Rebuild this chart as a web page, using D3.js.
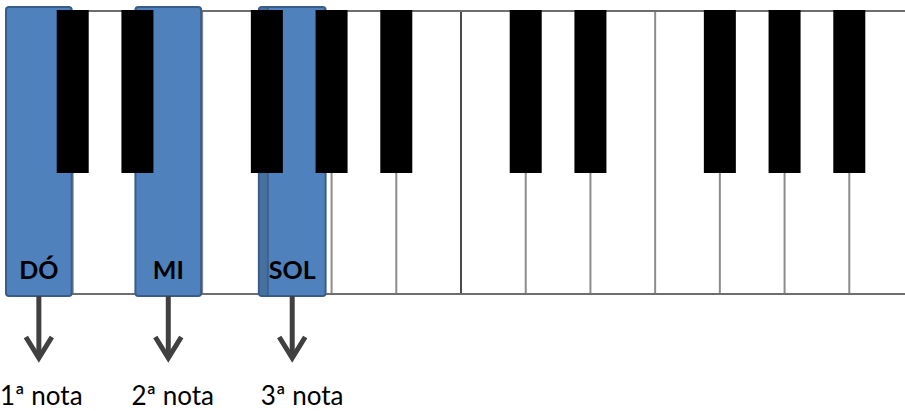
<!DOCTYPE html>
<html><head><meta charset="utf-8">
<script src="https://cdn.jsdelivr.net/npm/d3@7"></script>
<style>html,body{margin:0;padding:0;background:#fff;overflow:hidden}</style>
</head><body>
<svg id="c" width="905" height="411"></svg>
<script>
// ---- data ----
const whiteKeys = ["DÓ","RÉ","MI","FÁ","SOL","LÁ","SI","DÓ","RÉ","MI","FÁ","SOL","LÁ","SI"];
const blackAfter = [0,1,3,4,5,7,8,10,11,12];   // white-key index after which a black key sits
const chordKeys = [0,2,4];                      // DÓ, MI, SOL
const chordNames = ["DÓ","MI","SOL"];
const noteLabels = ["1ª nota","2ª nota","3ª nota"];

// ---- layout ----
const svg = d3.select("#c");
const kTop = 11, kBottom = 294, blackBottom = 173;
const x = d3.scaleBand().domain(d3.range(whiteKeys.length)).range([8, 914]).padding(0);
const bw = x.bandwidth();
const blackW = 32;
const nudge = {0:[-2,1],2:[-2,1],4:[-8,2]}; // small visual offsets of highlight boxes

// white key background
svg.append("rect").attr("x", x(0)).attr("y", kTop).attr("width", 905 - x(0)).attr("height", kBottom - kTop).attr("fill", "#fff");

// white key separators
svg.selectAll("line.sep").data(d3.range(1, whiteKeys.length)).join("line")
  .attr("class","sep")
  .attr("x1", d => x(d)).attr("x2", d => x(d))
  .attr("y1", kTop).attr("y2", kBottom)
  .attr("stroke", d => d === 7 ? "#4a4a4a" : "#8c8c8c")
  .attr("stroke-width", 2);

// top & bottom borders
svg.append("line").attr("x1", x(0)).attr("x2", 905).attr("y1", kTop).attr("y2", kTop).attr("stroke","#6e6e6e").attr("stroke-width",2);
svg.append("line").attr("x1", x(0)).attr("x2", 905).attr("y1", kBottom).attr("y2", kBottom).attr("stroke","#6e6e6e").attr("stroke-width",2);

// highlighted keys
const hx = i => x(i) + nudge[i][0];
const hw = i => bw + nudge[i][1];
svg.selectAll("rect.hl").data(chordKeys).join("rect")
  .attr("class","hl")
  .attr("x", d => hx(d)).attr("y", 7)
  .attr("width", d => hw(d)).attr("height", 289)
  .attr("rx", 3)
  .attr("fill", "#4f81bd").attr("stroke", "#385d8a").attr("stroke-width", 2);
// darker overlap strip and boundary showing through the SOL box
const shifted = chordKeys.filter(d => hx(d) < x(d) - 4);
svg.selectAll("rect.strip").data(shifted).join("rect")
  .attr("class","strip")
  .attr("x", d => hx(d) + 1).attr("y", 8).attr("width", d => x(d) - hx(d)).attr("height", 287)
  .attr("fill","#46719f");
svg.selectAll("line.thru").data(shifted).join("line")
  .attr("class","thru")
  .attr("x1", d => x(d)+1).attr("x2", d => x(d)+1).attr("y1", 8).attr("y2", 295)
  .attr("stroke","#3a6391").attr("stroke-width",2);

// black keys
svg.selectAll("rect.black").data(blackAfter).join("rect")
  .attr("class","black")
  .attr("x", d => x(d + 1) - blackW / 2).attr("y", kTop - 1)
  .attr("width", blackW).attr("height", blackBottom - kTop + 1)
  .attr("fill", "#000");

// chord labels
svg.selectAll("text.name").data(chordKeys).join("text")
  .attr("class","name")
  .attr("x", d => hx(d) + hw(d) / 2).attr("y", 279)
  .attr("text-anchor","middle")
  .attr("font-family","Lato, 'Open Sans', sans-serif").attr("font-weight","bold").attr("font-size", 25)
  .attr("fill","#000")
  .text((d, i) => chordNames[i]);

// arrows
const ag = svg.selectAll("g.arrow").data(chordKeys).join("g").attr("class","arrow")
  .attr("transform", d => `translate(${hx(d) + hw(d)/2},0)`);
ag.append("line").attr("x1",0).attr("x2",0).attr("y1",296).attr("y2",358)
  .attr("stroke","#404040").attr("stroke-width",5);
ag.append("path").attr("d","M-13,337 L0,358 L13,337")
  .attr("fill","none").attr("stroke","#404040").attr("stroke-width",5).attr("stroke-linejoin","miter");

// note labels
svg.selectAll("text.note").data(chordKeys).join("text")
  .attr("class","note")
  .attr("x", (d, i) => x(d) - 6 + (i === 0 ? -2 : 0)).attr("y", 405)
  .attr("font-family","Lato, 'Open Sans', sans-serif").attr("font-size", 26)
  .attr("fill","#000")
  .text((d, i) => noteLabels[i]);
</script>
</body></html>
